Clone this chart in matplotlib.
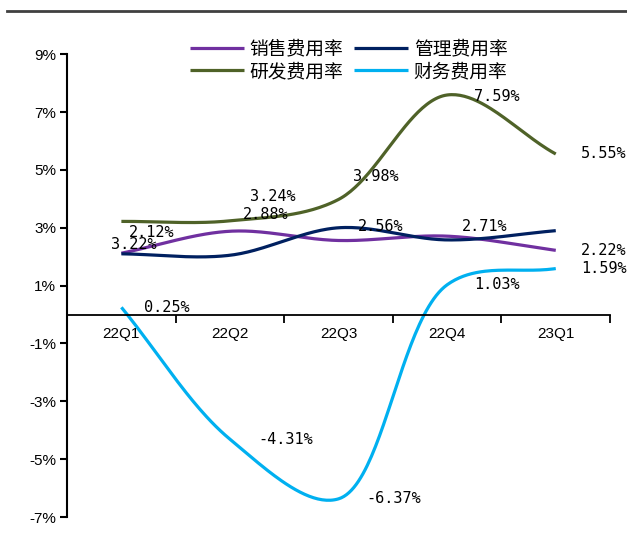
import numpy as np
import matplotlib
matplotlib.use('Agg')
import matplotlib.pyplot as plt
from matplotlib.lines import Line2D

plt.rcParams['font.family'] = ['Noto Sans CJK SC', 'DejaVu Sans']

quarters = ['22Q1', '22Q2', '22Q3', '22Q4', '23Q1']
names = ['销售费用率', '研发费用率', '管理费用率', '财务费用率']
colors = ['#7030A0', '#4F6228', '#002060', '#00B0F0']

sales = [2.12, 2.88, 2.56, 2.71, 2.22]
rnd = [3.22, 3.24, 3.98, 7.59, 5.55]
admin = [2.10, 2.05, 3.00, 2.58, 2.90]
finance = [0.25, -4.31, -6.37, 1.03, 1.59]

yticks = [9, 7, 5, 3, 1, -1, -3, -5, -7]


def smooth(xs, ys, ysc=0.27, alpha=0.5, n=50):
    # centripetal catmull-rom in roughly screen-proportional units
    p = np.column_stack([np.asarray(xs, float), np.asarray(ys, float) * ysc])
    p = np.vstack([2 * p[0] - p[1], p, 2 * p[-1] - p[-2]])
    out = []
    for i in range(1, len(p) - 2):
        p0, p1, p2, p3 = p[i - 1], p[i], p[i + 1], p[i + 2]
        t0 = 0.0
        t1 = t0 + np.linalg.norm(p1 - p0) ** alpha
        t2 = t1 + np.linalg.norm(p2 - p1) ** alpha
        t3 = t2 + np.linalg.norm(p3 - p2) ** alpha
        t = np.linspace(t1, t2, n)[:, None]
        a1 = (t1 - t) / (t1 - t0) * p0 + (t - t0) / (t1 - t0) * p1
        a2 = (t2 - t) / (t2 - t1) * p1 + (t - t1) / (t2 - t1) * p2
        a3 = (t3 - t) / (t3 - t2) * p2 + (t - t2) / (t3 - t2) * p3
        b1 = (t2 - t) / (t2 - t0) * a1 + (t - t0) / (t2 - t0) * a2
        b2 = (t3 - t) / (t3 - t1) * a2 + (t - t1) / (t3 - t1) * a3
        out.append((t2 - t) / (t2 - t1) * b1 + (t - t1) / (t2 - t1) * b2)
    out = np.vstack(out)
    return out[:, 0], out[:, 1] / ysc


fig = plt.figure(figsize=(6.27, 5.53), dpi=100)
ax = fig.add_axes([0.107, 0.065, 0.866, 0.837])

x = np.arange(len(quarters))
handles = []
for ys, c, nm in zip([sales, rnd, admin, finance], colors, names):
    sx, sy = smooth(x, ys)
    h, = ax.plot(sx, sy, color=c, lw=2.3, label=nm, solid_capstyle='butt')
    handles.append(h)

mono = dict(family='DejaVu Sans Mono', fontsize=11, color='black')
off_sales = [(30, 21), (36, 17), (42, 14), (38, 10), (48, 0)]
off_rnd = [(12, -23), (43, 24), (37, 23), (50, -2), (48, 0)]
off_fin = [(45, 0), (56, 0), (55, 0), (50, 0), (48, 0)]
for i in range(len(quarters)):
    ax.annotate(f'{sales[i]:.2f}%', (x[i], sales[i]), xytext=off_sales[i],
                textcoords='offset pixels', ha='center', va='center', **mono)
    ax.annotate(f'{rnd[i]:.2f}%', (x[i], rnd[i]), xytext=off_rnd[i],
                textcoords='offset pixels', ha='center', va='center', **mono)
    ax.annotate(f'{finance[i]:.2f}%', (x[i], finance[i]), xytext=off_fin[i],
                textcoords='offset pixels', ha='center', va='center', **mono)

ax.set_xlim(-0.5, 4.5)
ax.set_ylim(-7, 9)
for s in ['top', 'right']:
    ax.spines[s].set_visible(False)
ax.spines['bottom'].set_position(('data', 0))
ax.spines['bottom'].set_linewidth(1.3)
ax.spines['left'].set_linewidth(1.5)

ax.set_yticks(yticks)
ax.set_yticklabels([f'{v}%' for v in yticks])
ax.tick_params(axis='y', direction='out', length=5, width=1.5, labelsize=11, pad=3)

ax.set_xticks(x + 0.5)
ax.set_xticklabels([])
ax.set_xticks(x, minor=True)
ax.set_xticklabels(quarters, minor=True)
ax.tick_params(axis='x', which='major', direction='out', length=6, width=1.3)
ax.tick_params(axis='x', which='minor', length=0, pad=9, labelsize=11)
for lab in ax.get_xticklabels(minor=True) + ax.get_yticklabels():
    lab.set_family(['Liberation Sans', 'DejaVu Sans'])

fig.legend(handles=handles, labels=names, ncol=2, loc='upper center',
           bbox_to_anchor=(0.556, 0.948), frameon=False, fontsize=13.5,
           handlelength=2.9, handletextpad=0.3, columnspacing=0.55,
           labelspacing=0.1, borderpad=0)

fig.add_artist(Line2D([0.011, 1.0], [0.980, 0.980], color='#404040', lw=2,
                      transform=fig.transFigure))

fig.savefig('out.png', dpi=100)
